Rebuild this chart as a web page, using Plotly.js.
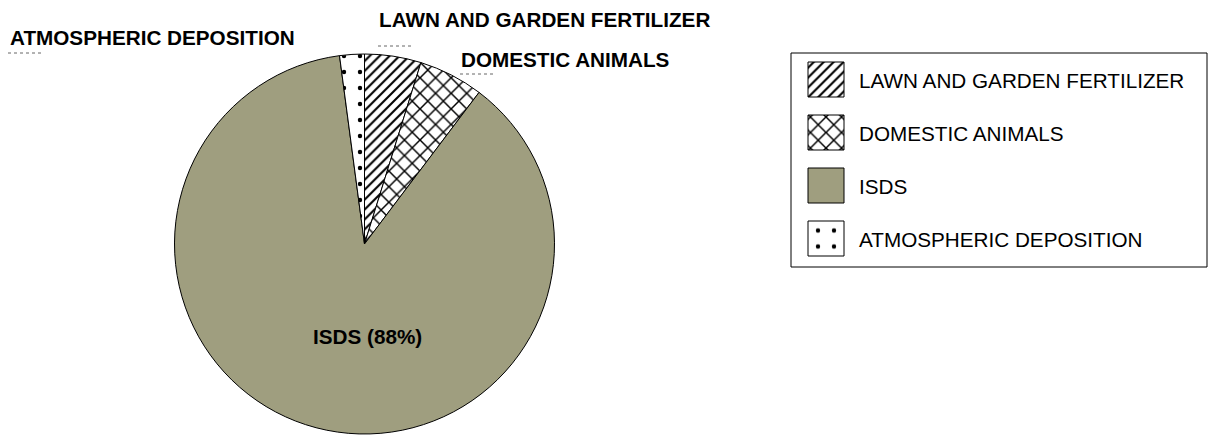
<!DOCTYPE html>
<html>
<head>
<meta charset="utf-8">
<script src="https://cdn.plot.ly/plotly-3.0.1.min.js"></script>
<style>
  html, body { margin: 0; padding: 0; background: #fff; }
  #chart { width: 1209px; height: 435px; }
</style>
</head>
<body>
<div id="chart"></div>
<script>
// ---- data ----
const labels = ["LAWN AND GARDEN FERTILIZER", "DOMESTIC ANIMALS", "ISDS", "ATMOSPHERIC DEPOSITION"];
const values = [4.8, 5.5, 87.6, 2.1];
const sliceColors = ["#ffffff", "#ffffff", "#9f9e7f", "#ffffff"];
const patternShapes = ["/", "x", "", "."];
const patternSizes = [7, 11, 8, 16];

const W = 1209, H = 435;
const px = x => x / W;
const py = y => 1 - y / H;

const total = values.reduce((a, b) => a + b, 0);
const pct = i => Math.round(values[i] / total * 100);

const FONT = "Liberation Sans, Arial, sans-serif";
const FS = 20.7;

// pie geometry (center 364.5, 244, radius 190)
const cx = 364.5, cy = 244, r = 190;

const trace = {
  type: "pie",
  labels: labels,
  values: values,
  sort: false,
  direction: "clockwise",
  rotation: 0,
  textinfo: "none",
  hoverinfo: "label+percent",
  domain: { x: [px(cx - r), px(cx + r)], y: [py(cy + r), py(cy - r)] },
  marker: {
    colors: sliceColors,
    line: { color: "#000000", width: 1 },
    pattern: {
      shape: patternShapes,
      size: patternSizes,
      solidity: [0.3, 0.25, 0.3, 0.06],
      fgcolor: "#000000",
      fgopacity: 1,
      fillmode: "overlay"
    }
  }
};

const boldLab = (t) => "<b>" + t + "</b>";
const annotations = [
  { text: boldLab(labels[3]), x: px(8), y: py(37.5), xanchor: "left" },
  { text: boldLab(labels[0]), x: px(377), y: py(20), xanchor: "left" },
  { text: boldLab(labels[1]), x: px(459), y: py(59.5), xanchor: "left" },
  { text: boldLab(labels[2] + " (" + pct(2) + "%)"), x: px(311), y: py(336), xanchor: "left" }
].map(a => Object.assign({
  xref: "paper", yref: "paper", yanchor: "middle", showarrow: false,
  font: { family: FONT, size: FS, color: "#000" }
}, a));

const frag = (x0, y) => ({
  type: "line", xref: "paper", yref: "paper",
  x0: px(x0), x1: px(x0 + 36), y0: py(y), y1: py(y),
  line: { color: "#666", width: 1, dash: "dot" }
});

const layout = {
  width: W, height: H,
  margin: { l: 0, r: 0, t: 0, b: 0, autoexpand: false },
  paper_bgcolor: "#ffffff",
  showlegend: true,
  legend: {
    x: px(795), y: py(56), xanchor: "left", yanchor: "top",
    bgcolor: "rgba(0,0,0,0)", borderwidth: 0,
    font: { family: FONT, size: FS, color: "#000" }
  },
  annotations: annotations,
  shapes: [
    { type: "rect", xref: "paper", yref: "paper",
      x0: px(791), x1: px(1207), y0: py(267), y1: py(53),
      line: { color: "#000", width: 1 }, fillcolor: "rgba(0,0,0,0)" },
    frag(8, 53), frag(378, 46), frag(460, 74)
  ]
};

function fixLegend() {
  const gd = document.getElementById("chart");
  gd.querySelectorAll(".legend [clip-path]").forEach(el => el.removeAttribute("clip-path"));
  gd.querySelectorAll(".legend").forEach(el => el.removeAttribute("clip-path"));
  const items = gd.querySelectorAll(".legend .traces");
  items.forEach((g, i) => {
    const path = g.querySelector("path.legendpie");
    if (!path) return;
    path.setAttribute("d", "M18,17.5H-18V-17.5H18Z");
    const rb = path.getBoundingClientRect();
    const ccx = rb.left + rb.width / 2, ccy = rb.top + rb.height / 2;
    const tx = 826, ty = 79.5 + i * 53;
    const m = /translate\(\s*([-\d.e]+)[ ,]+([-\d.e]+)\s*\)/.exec(g.getAttribute("transform") || "");
    const a = m ? parseFloat(m[1]) : 0, b = m ? parseFloat(m[2]) : 0;
    g.setAttribute("transform", "translate(" + (a + tx - ccx) + "," + (b + ty - ccy) + ")");
    const txt = g.querySelector("text.legendtext");
    if (txt) {
      const tb = txt.getBoundingClientRect();
      const cur = parseFloat(txt.getAttribute("x") || "0");
      txt.setAttribute("x", cur + (859 - tb.left));
    }
  });
}

Plotly.newPlot("chart", [trace], layout, { displayModeBar: false, staticPlot: true })
  .then(fixLegend);
</script>
</body>
</html>
